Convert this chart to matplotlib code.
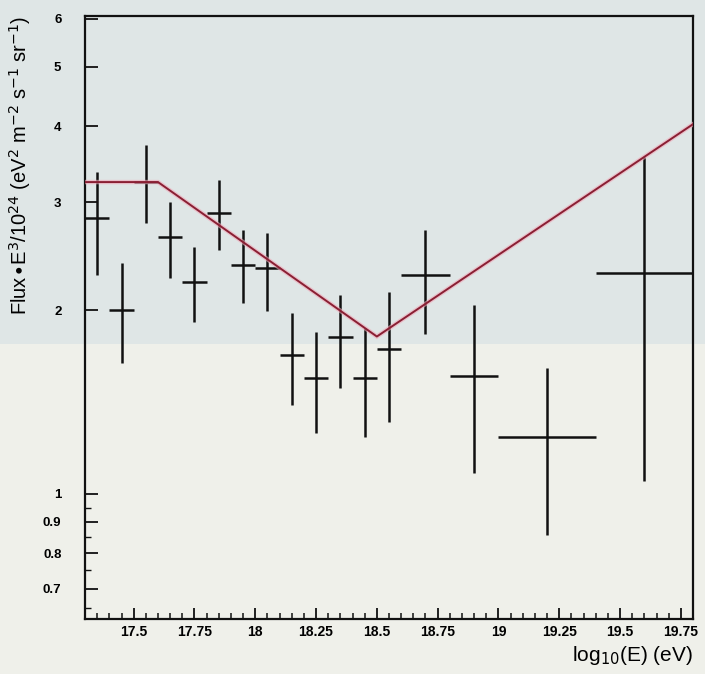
import matplotlib
matplotlib.use("Agg")
import matplotlib.pyplot as plt
from matplotlib.patches import Rectangle
from matplotlib.ticker import FixedLocator, MultipleLocator, NullFormatter, FixedFormatter
import numpy as np

# Energy bins (log10 E / eV): centres and half widths
log_e = [17.35, 17.45, 17.55, 17.65, 17.75, 17.85, 17.95, 18.05, 18.15,
         18.25, 18.35, 18.45, 18.55, 18.70, 18.90, 19.20, 19.60]
half_width = [0.05, 0.05, 0.05, 0.05, 0.05, 0.05, 0.05, 0.05, 0.05,
              0.05, 0.05, 0.05, 0.05, 0.10, 0.10, 0.20, 0.20]

# Flux * E^3 / 1e24 with its error band
flux = [2.83, 2.00, 3.24, 2.63, 2.22, 2.88, 2.37, 2.34, 1.69,
        1.55, 1.81, 1.55, 1.73, 2.28, 1.56, 1.24, 2.30]
flux_hi = [3.37, 2.39, 3.73, 3.00, 2.54, 3.26, 2.70, 2.67, 1.98,
           1.84, 2.12, 1.87, 2.14, 2.70, 2.04, 1.61, 3.56]
flux_lo = [2.28, 1.64, 2.78, 2.26, 1.91, 2.51, 2.05, 1.99, 1.40,
           1.26, 1.49, 1.24, 1.31, 1.83, 1.08, 0.857, 1.05]

# Broken power-law fit: break points and values
fit_log_e = [17.3, 17.6, 18.5, 19.8]
fit_flux = [3.24, 3.24, 1.81, 4.03]

x_ticks = [17.5, 17.75, 18.0, 18.25, 18.5, 18.75, 19.0, 19.25, 19.5, 19.75]
x_tick_labels = ["17.5", "17.75", "18", "18.25", "18.5", "18.75", "19",
                 "19.25", "19.5", "19.75"]
y_ticks = [0.7, 0.8, 0.9, 1, 2, 3, 4, 5, 6]
y_tick_labels = ["0.7", "0.8", "0.9", "1", "2", "3", "4", "5", "6"]

plt.rcParams["font.family"] = ["Liberation Sans", "DejaVu Sans"]

fig = plt.figure(figsize=(7.05, 6.74), dpi=100)

# two-tone paper background
split = 0.49
fig.patches.append(Rectangle((0, split), 1, 1 - split, transform=fig.transFigure,
                             facecolor="#dfe6e6", edgecolor="none", zorder=-10))
fig.patches.append(Rectangle((0, 0), 1, split, transform=fig.transFigure,
                             facecolor="#eff0ea", edgecolor="none", zorder=-10))

ax = fig.add_axes([0.1206, 0.0816, 0.983 - 0.1206, 0.9763 - 0.0816])
ax.set_facecolor("none")

x = np.array(log_e)
y = np.array(flux)
yerr = np.vstack([y - np.array(flux_lo), np.array(flux_hi) - y])
ax.errorbar(x, y, xerr=half_width, yerr=yerr, fmt="none", ecolor="#111111",
            elinewidth=1.8, capsize=0, zorder=3)

ax.plot(fit_log_e, fit_flux, color="#f0a8b8", lw=3.2, alpha=0.6, zorder=4,
        solid_joinstyle="miter")
ax.plot(fit_log_e, fit_flux, color="#8a1f33", lw=1.4, zorder=5)

ax.set_yscale("log")
ax.set_xlim(17.3, 19.8)
ax.set_ylim(0.624, 6.06)

ax.xaxis.set_major_locator(FixedLocator(x_ticks))
ax.xaxis.set_major_formatter(FixedFormatter(x_tick_labels))
ax.xaxis.set_minor_locator(MultipleLocator(0.05))

ax.yaxis.set_major_locator(FixedLocator(y_ticks))
ax.yaxis.set_major_formatter(FixedFormatter(y_tick_labels))
ax.yaxis.set_minor_locator(FixedLocator([0.65, 0.75, 0.85, 0.95]))
ax.yaxis.set_minor_formatter(NullFormatter())

ax.tick_params(axis="both", which="both", direction="in", color="#111111",
               top=False, right=False)
ax.tick_params(axis="x", which="major", length=8, width=1.3, pad=4,
               labelsize=10)
ax.tick_params(axis="x", which="minor", length=4, width=1.1)
ax.tick_params(axis="y", which="major", length=9, width=1.3, pad=17,
               labelsize=9.5)
ax.tick_params(axis="y", which="minor", length=4, width=1.0)
for lab in ax.get_xticklabels() + ax.get_yticklabels():
    lab.set_fontweight("bold")

for s in ax.spines.values():
    s.set_linewidth(1.6)
    s.set_color("#111111")

ax.set_xlabel(r"log$_{10}$(E) (eV)", fontsize=15, loc="right", labelpad=4)
ax.set_ylabel(r"Flux$\bullet$E$^{3}$/10$^{24}$ (eV$^{2}$ m$^{-2}$ s$^{-1}$ sr$^{-1}$)",
              fontsize=14.5, loc="top")
ax.yaxis.set_label_coords(-0.085, 1.0)

fig.savefig("out.png", dpi=100)
